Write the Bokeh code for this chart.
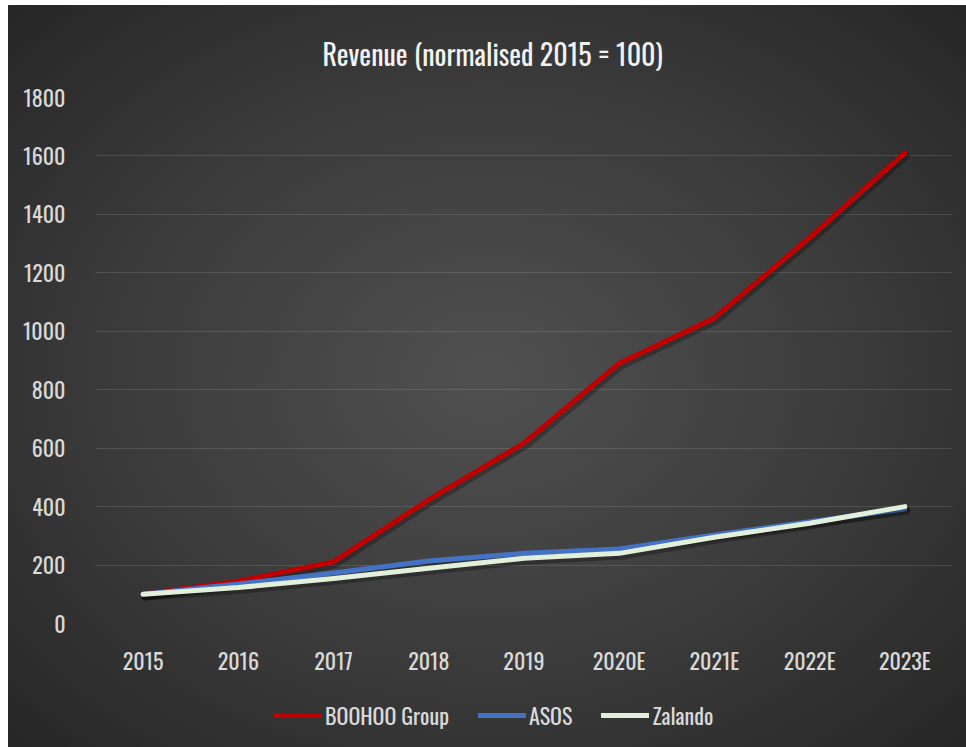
from bokeh.plotting import figure
from bokeh.models import ColumnDataSource, Legend, LegendItem, FactorRange, Range1d, FixedTicker
from bokeh.layouts import column
from bokeh.transform import dodge
from bokeh.embed import file_html
from bokeh.resources import INLINE

years = ["2015", "2016", "2017", "2018", "2019", "2020E", "2021E", "2022E", "2023E"]
boohoo = [100, 145, 211, 423, 617, 890, 1045, 1320, 1610]
asos = [100, 135, 173, 214, 240, 255, 303, 348, 392]
zalando = [100, 123, 154, 189, 223, 240, 295, 343, 400]
series_names = ["BOOHOO Group", "ASOS", "Zalando"]
series_colors = ["#C00000", "#4472C4", "#E2EFDA"]
y_ticks = [0, 200, 400, 600, 800, 1000, 1200, 1400, 1600, 1800]
title_text = "Revenue (normalised 2015 = 100)"

FONT = "Oswald"

src = ColumnDataSource(dict(x=years, b=boohoo, a=asos, z=zalando))

p = figure(
    frame_width=857, frame_height=526,
    x_range=FactorRange(*years), y_range=Range1d(0, 1800),
    output_backend="svg", toolbar_location=None,
    min_border_left=87, min_border_right=14, min_border_top=92, min_border_bottom=60,
    background_fill_color=None, border_fill_color=None,
    outline_line_color=None,
)

p.title.text = title_text
p.title.text_font = FONT
p.title.text_font_size = "28px"
p.title.text_font_style = "normal"
p.title.text_color = "#F2F2F2"
p.title.align = "left"
p.title.offset = 227
p.title.standoff = 48

p.xgrid.grid_line_color = None
p.ygrid.grid_line_color = "#FFFFFF"
p.ygrid.grid_line_alpha = 0.12
p.ygrid.grid_line_width = 1
p.yaxis.ticker = FixedTicker(ticks=y_ticks)

for ax in (p.xaxis, p.yaxis):
    ax.axis_line_color = None
    ax.major_tick_line_color = None
    ax.minor_tick_line_color = None
    ax.major_label_text_font = FONT
    ax.major_label_text_font_size = "22px"
    ax.major_label_text_color = "#D9D9D9"
p.yaxis.major_label_standoff = 24
p.xaxis.major_label_standoff = 14

cols = ["b", "a", "z"]
for col, color in zip(cols, series_colors):
    p.line(x=dodge("x", 0.02, range=p.x_range), y=dodge(col, -9), source=src,
           line_color="black", line_alpha=0.28, line_width=7,
           line_cap="round", line_join="round")
    p.line(x="x", y=col, source=src, line_color=color, line_width=5,
           line_cap="round", line_join="round")

# legend strip below the chart: the series are plotted again here but fall
# outside this strip's value range, so only the legend swatches show
pl = figure(
    frame_width=958, frame_height=64,
    x_range=FactorRange(*years), y_range=Range1d(-2, -1),
    x_axis_type=None, y_axis_type=None,
    output_backend="svg", toolbar_location=None,
    min_border=0, min_border_left=0, min_border_right=0, min_border_top=0, min_border_bottom=0,
    background_fill_color=None, border_fill_color=None, outline_line_color=None,
)
pl.xgrid.grid_line_color = None
pl.ygrid.grid_line_color = None
items = []
for col, name, color in zip(cols, series_names, series_colors):
    r = pl.line(x="x", y=col, source=src, line_color=color, line_width=5, line_cap="round")
    items.append(LegendItem(label=name, renderers=[r]))

legend = Legend(items=items, orientation="horizontal", location="left",
                label_text_font=FONT, label_text_font_size="22px",
                label_text_color="#D9D9D9", background_fill_alpha=0,
                border_line_color=None, glyph_width=48, glyph_height=20,
                label_standoff=3, spacing=29, padding=0, margin=266)
pl.add_layout(legend, "center")

layout = column(p, pl, spacing=0,
                styles={"margin-left": "8px", "margin-top": "5px",
                        "background": "radial-gradient(ellipse farthest-corner at 50% 50%, #505050 0%, #3b3b3b 55%, #262626 100%)"})

open("out.html", "w").write(file_html(layout, INLINE))
